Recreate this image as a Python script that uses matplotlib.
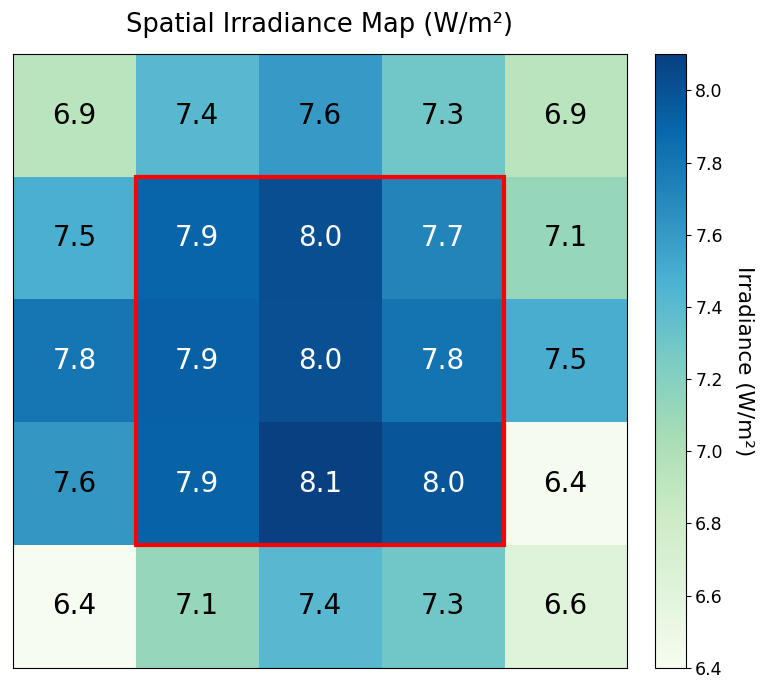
import numpy as np
import matplotlib.pyplot as plt
from matplotlib.patches import Rectangle

# 各格子的辐照度值 (W/m²)
irradiance = np.array([
    [6.93, 7.41, 7.60, 7.29, 6.93],
    [7.48, 7.90, 8.02, 7.72, 7.12],
    [7.80, 7.92, 8.01, 7.81, 7.49],
    [7.62, 7.91, 8.10, 7.98, 6.41],
    [6.40, 7.12, 7.42, 7.29, 6.62],
])
cbar_ticks = [6.4, 6.6, 6.8, 7.0, 7.2, 7.4, 7.6, 7.8, 8.0]

fig = plt.figure(figsize=(7.6, 6.8), dpi=100)
ax = fig.add_axes([0.017, 0.018, 0.808, 0.902])
cax = fig.add_axes([0.862, 0.018, 0.040, 0.902])

im = ax.imshow(irradiance, cmap='GnBu', vmin=6.4, vmax=8.1, aspect='auto')

# 数值标注，深色格子用白字
for i in range(irradiance.shape[0]):
    for j in range(irradiance.shape[1]):
        v = irradiance[i, j]
        color = 'white' if v > 7.65 else 'black'
        ax.text(j, i, f"{v:.1f}", ha='center', va='center', fontsize=20, color=color)

# 中心区域红框
ax.add_patch(Rectangle((0.5, 0.5), 3, 3, fill=False, edgecolor='red', linewidth=3))

ax.set_xticks([])
ax.set_yticks([])
ax.set_title('Spatial Irradiance Map (W/m²)', fontsize=18.5, pad=16)

cbar = fig.colorbar(im, cax=cax)
cbar.set_ticks(cbar_ticks)
cbar.ax.tick_params(labelsize=12.5)
cbar.set_label('Irradiance (W/m²)', fontsize=15.5, rotation=270, labelpad=22)

plt.savefig('out.png')
